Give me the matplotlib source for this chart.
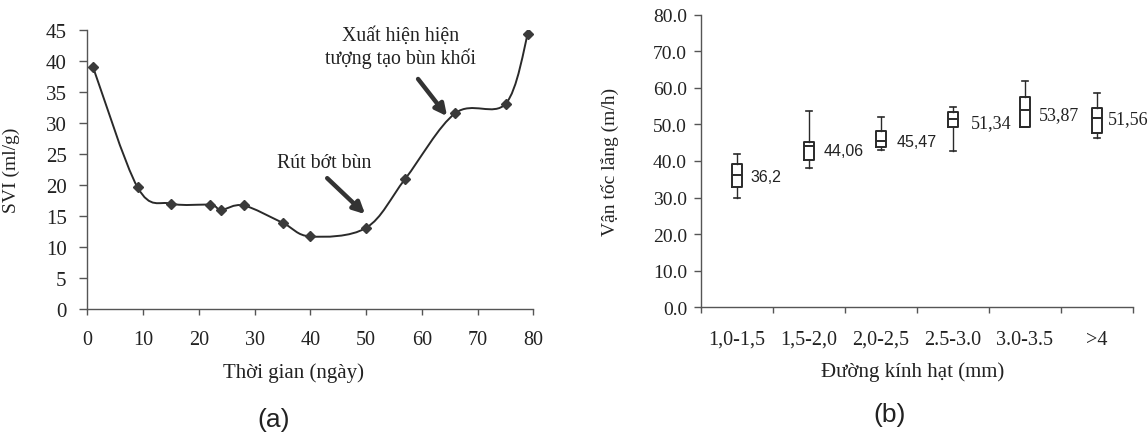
import numpy as np
import matplotlib
matplotlib.use("Agg")
import matplotlib.pyplot as plt
from matplotlib.path import Path
from matplotlib.patches import PathPatch

# ---------------- data ----------------
days = [1, 9, 15, 22, 24, 28, 35, 40, 50, 57, 66, 75, 79]
svi = [39.0, 19.6, 17.0, 16.8, 16.0, 16.7, 13.9, 11.7, 13.1, 21.0, 31.6, 33.1, 44.4]

size_cats = ["1,0-1,5", "1,5-2,0", "2,0-2,5", "2.5-3.0", "3.0-3.5", ">4"]
whisk_lo = [29.9, 38.2, 42.9, 42.8, 49.2, 46.3]
q1 = [33.0, 40.4, 43.7, 49.3, 49.4, 47.6]
median = [36.1, 44.0, 45.6, 51.5, 54.0, 51.7]
q3 = [39.3, 45.2, 48.1, 53.4, 57.5, 54.5]
whisk_hi = [41.9, 53.8, 52.0, 54.9, 61.8, 58.6]
mean_labels = ["36,2", "44,06", "45,47", "51,34", "53,87", "51,56"]
label_y = [35.7, 42.9, 45.3, 50.6, 52.7, 51.7]
label_dx = [0.19, 0.20, 0.22, 0.25, 0.20, 0.145]

SERIF = "Liberation Serif"
SANS = "Liberation Sans"
DARK = "#2a2a2a"
TXT = "#222222"

fig = plt.figure(figsize=(11.48, 4.35), dpi=100)

# ---------------- panel (a) ----------------
axa = fig.add_axes([0.0762, 0.2874, 0.3885, 0.6413])
x = np.array(days, float)
y = np.array(svi, float)
n = len(x)
verts = [(x[0], y[0])]
codes = [Path.MOVETO]
for i in range(n - 1):
    p0 = np.array([x[max(i - 1, 0)], y[max(i - 1, 0)]])
    p1 = np.array([x[i], y[i]])
    p2 = np.array([x[i + 1], y[i + 1]])
    p3 = np.array([x[min(i + 2, n - 1)], y[min(i + 2, n - 1)]])
    c1 = p1 + (p2 - p0) / 6.0
    c2 = p2 - (p3 - p1) / 6.0
    verts += [tuple(c1), tuple(c2), tuple(p2)]
    codes += [Path.CURVE4, Path.CURVE4, Path.CURVE4]
axa.add_patch(PathPatch(Path(verts, codes), facecolor="none", edgecolor=DARK, lw=1.4))
axa.plot(days, svi, linestyle="none", marker="D", markersize=5, color="#3a3a3a")

axa.set_xlim(0, 80)
axa.set_ylim(0, 45)
axa.set_xticks(range(0, 81, 10))
axa.set_yticks(range(0, 46, 5))
for s in ["top", "right"]:
    axa.spines[s].set_visible(False)
for s in ["left", "bottom"]:
    axa.spines[s].set_color("#555555")
    axa.spines[s].set_linewidth(1.0)
axa.tick_params(axis="y", direction="out", length=6, width=1, color="#555555", pad=9,
                labelsize=15, labelcolor=TXT)
axa.tick_params(axis="x", direction="out", length=4, width=1, color="#555555", pad=11,
                labelsize=14.5, labelcolor=TXT)
for lab in axa.get_xticklabels() + axa.get_yticklabels():
    lab.set_fontfamily(SERIF)
axa.set_xlabel("Thời gian (ngày)", fontsize=15, family=SERIF, color=TXT)
axa.set_ylabel("SVI (ml/g)", fontsize=14, family=SERIF, color=TXT)
axa.xaxis.set_label_coords(0.461, -0.19)
axa.yaxis.set_label_coords(-0.151, 0.5)

arrow_kw = dict(arrowstyle="-|>", lw=3.2, color="#333333", mutation_scale=17,
                shrinkA=0, shrinkB=0)
axa.annotate("", xy=(49.8, 15.3), xytext=(43.0, 21.1), arrowprops=arrow_kw)
axa.text(42.4, 23.6, "Rút bớt bùn", ha="center", va="center", fontsize=14.3,
         family=SERIF, color=TXT)
axa.annotate("", xy=(64.5, 31.1), xytext=(59.3, 37.1), arrowprops=arrow_kw)
axa.text(56.2, 42.3, "Xuất hiện hiện\ntượng tạo bùn khối", ha="center", va="center",
         fontsize=14.3, family=SERIF, color=TXT, linespacing=1.2)

fig.text(0.238, 0.035, "(a)", ha="center", va="center", fontsize=19, family=SANS,
         color=TXT)

# ---------------- panel (b) ----------------
axb = fig.add_axes([0.6106, 0.2913, 0.3763, 0.6726])
pos = np.arange(len(size_cats)) + 0.5
stats = []
for i in range(len(size_cats)):
    stats.append(dict(whislo=whisk_lo[i], q1=q1[i], med=median[i], q3=q3[i],
                      whishi=whisk_hi[i], fliers=[]))
lp = dict(color=DARK, linewidth=1.4)
axb.bxp(stats, positions=pos, widths=0.15, capwidths=0.09, showfliers=False,
        boxprops=lp, whiskerprops=dict(color=DARK, linewidth=1.0),
        capprops=dict(color=DARK, linewidth=1.2), medianprops=lp, manage_ticks=False)
for i in range(len(size_cats)):
    fam = SANS if i < 3 else SERIF
    fs = 11.5 if i < 3 else 13
    axb.text(pos[i] + label_dx[i], label_y[i], mean_labels[i], ha="left", va="center",
             fontsize=fs, family=fam, color=TXT)

axb.set_xlim(0, len(size_cats))
axb.set_ylim(0, 80)
axb.set_yticks(np.arange(0, 81, 10))
axb.set_yticklabels([f"{v:.1f}" for v in np.arange(0, 81, 10)])
axb.set_xticks(np.arange(0, len(size_cats) + 1))
axb.set_xticklabels([])
axb.set_xticks(pos, minor=True)
axb.set_xticklabels(size_cats, minor=True)
for s in ["top", "right"]:
    axb.spines[s].set_visible(False)
for s in ["left", "bottom"]:
    axb.spines[s].set_color("#555555")
    axb.spines[s].set_linewidth(1.0)
axb.tick_params(axis="y", direction="out", length=5, width=1, color="#555555", pad=5,
                labelsize=14, labelcolor=TXT)
axb.tick_params(axis="x", which="major", direction="out", length=4, width=1, color="#555555")
axb.tick_params(axis="x", which="minor", length=0, pad=16, labelsize=14.5,
                labelcolor=TXT)
for lab in axb.get_yticklabels() + axb.get_xticklabels(minor=True):
    lab.set_fontfamily(SERIF)
axb.set_xlabel("Đường kính hạt (mm)", fontsize=15, family=SERIF, color=TXT)
axb.set_ylabel("Vận tốc lắng (m/h)", fontsize=14, family=SERIF, color=TXT)
axb.xaxis.set_label_coords(0.491, -0.183)
axb.yaxis.set_label_coords(-0.19, 0.5)

fig.text(0.775, 0.045, "(b)", ha="center", va="center", fontsize=19, family=SANS,
         color=TXT)

fig.savefig("out.png", dpi=100, facecolor="white")
